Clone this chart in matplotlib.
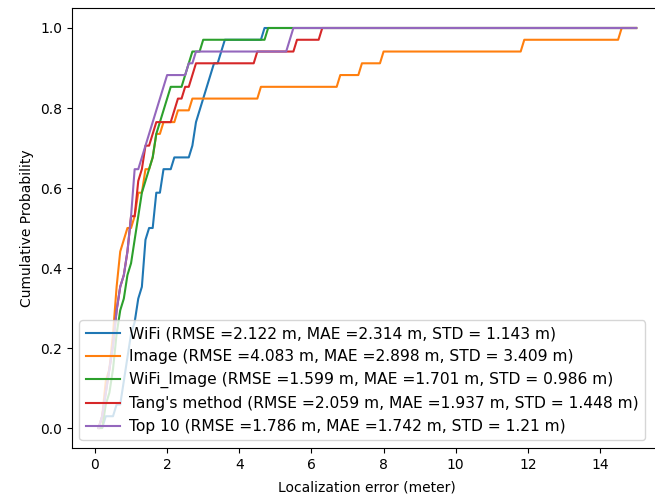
import numpy as np
import matplotlib
matplotlib.use('Agg')
import matplotlib.pyplot as plt

# localization errors (m) per method (34 test points each)
wifi = [0.25, 0.5, 0.72, 0.78, 0.83, 0.88, 0.93, 0.98, 1.04, 1.12, 1.2, 1.25,
        1.3, 1.33, 1.36, 1.39, 1.45, 1.63, 1.66, 1.7, 1.82, 1.88, 2.15, 2.65,
        2.72, 2.78, 2.85, 2.93, 3.05, 3.17, 3.3, 3.42, 3.55, 4.65]
image = [0.12, 0.2, 0.25, 0.3, 0.35, 0.4, 0.43, 0.47, 0.5, 0.53, 0.58, 0.6,
         0.63, 0.65, 0.68, 0.75, 0.85, 1.0, 1.1, 1.2, 1.3, 1.4, 1.5, 1.6,
         1.7, 1.8, 2.3, 2.6, 4.55, 6.75, 7.35, 7.95, 11.85, 14.55]
wifi_image = [0.2, 0.3, 0.35, 0.4, 0.45, 0.5, 0.55, 0.6, 0.63, 0.67, 0.72, 0.8,
              0.87, 0.95, 1.0, 1.05, 1.12, 1.18, 1.23, 1.28, 1.33, 1.42, 1.5, 1.6,
              1.68, 1.75, 1.82, 1.95, 2.0, 2.42, 2.55, 2.65, 2.95, 4.8]
tang = [0.15, 0.2, 0.28, 0.33, 0.38, 0.42, 0.47, 0.5, 0.54, 0.58, 0.62, 0.7,
        0.77, 0.82, 0.86, 0.9, 0.93, 0.97, 1.12, 1.15, 1.2, 1.25, 1.3, 1.33,
        1.5, 1.65, 2.15, 2.25, 2.45, 2.62, 2.8, 4.45, 5.52, 6.22]
top10 = [0.12, 0.2, 0.27, 0.32, 0.37, 0.42, 0.46, 0.5, 0.53, 0.57, 0.62, 0.7,
         0.78, 0.83, 0.88, 0.92, 0.95, 0.97, 1.02, 1.04, 1.05, 1.06, 1.28, 1.38,
         1.48, 1.58, 1.68, 1.78, 1.88, 1.98, 2.5, 2.72, 5.35, 5.45]

labels = [
    'WiFi (RMSE =2.122 m, MAE =2.314 m, STD = 1.143 m)',
    'Image (RMSE =4.083 m, MAE =2.898 m, STD = 3.409 m)',
    'WiFi_Image (RMSE =1.599 m, MAE =1.701 m, STD = 0.986 m)',
    "Tang's method (RMSE =2.059 m, MAE =1.937 m, STD = 1.448 m)",
    'Top 10 (RMSE =1.786 m, MAE =1.742 m, STD = 1.21 m)',
]

fig = plt.figure(figsize=(6.55, 4.95), dpi=100)
# the reference is cropped on the right, so the axes run past the figure edge
ax = fig.add_axes([71.7 / 655, 47 / 495, 591.3 / 655, 440 / 495])

bins = np.linspace(0, 15, 151)
for errs, lab in zip([wifi, image, wifi_image, tang, top10], labels):
    counts, edges = np.histogram(errs, bins=bins)
    cdf = np.cumsum(counts) / len(errs)
    ax.plot(edges[1:], cdf, label=lab)

ax.set_xlabel('Localization error (meter)', labelpad=6)
ax.set_ylabel('Cumulative Probability')
ax.legend(loc='lower left', fontsize=11.2, handlelength=2.2, handletextpad=0.6)

fig.savefig('out.png', dpi=100)
